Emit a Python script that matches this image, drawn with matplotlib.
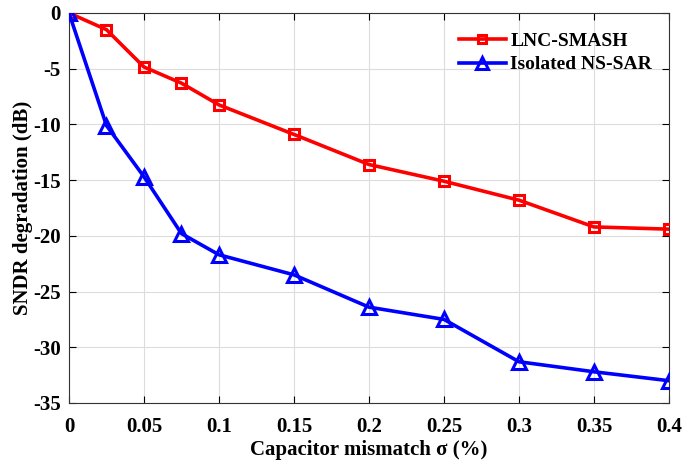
import matplotlib
matplotlib.use("Agg")
import matplotlib.pyplot as plt

sigma = [0, 0.025, 0.05, 0.075, 0.1, 0.15, 0.2, 0.25, 0.3, 0.35, 0.4]
lnc_smash = [0, -1.5, -4.85, -6.3, -8.25, -10.9, -13.6, -15.1, -16.8, -19.2, -19.4]
isolated_ns_sar = [0, -10.1, -14.7, -19.8, -21.7, -23.5, -26.4, -27.5, -31.3, -32.2, -33.0]

plt.rcParams['font.family'] = ['Liberation Serif', 'DejaVu Serif']
plt.rcParams['font.weight'] = 'bold'
plt.rcParams['axes.unicode_minus'] = False

fig = plt.figure(figsize=(6.83, 4.63), dpi=100)
ax = fig.add_axes([0.101, 0.1296, 0.8785, 0.8424])

ax.plot(sigma, lnc_smash, color='#ff0000', lw=2.6, marker='s', ms=7.5,
        mfc='none', mew=2.2, label='LNC-SMASH', zorder=3)
ax.plot(sigma, isolated_ns_sar, color='#0000ff', lw=2.6, marker='^', ms=10,
        mfc='none', mew=2.2, label='Isolated NS-SAR', zorder=3)

ax.set_xlim(0, 0.4)
ax.set_ylim(-35, 0)
ax.set_xticks(sigma[:1] + sigma[2:3] + sigma[4:])
ax.set_xticklabels(['0', '0.05', '0.1', '0.15', '0.2', '0.25', '0.3', '0.35', '0.4'])
ax.set_yticks(range(-35, 1, 5))
ax.tick_params(direction='in', top=True, right=True, labelsize=15, length=5,
               width=0.8)
ax.tick_params(axis='x', pad=10)
ax.tick_params(axis='y', pad=6)
for lab in ax.get_xticklabels() + ax.get_yticklabels():
    lab.set_fontweight('bold')
ax.grid(True, color='#dcdcdc', lw=0.8, zorder=0)
for s in ax.spines.values():
    s.set_color('#333333')
    s.set_linewidth(0.8)

ax.set_xlabel('Capacitor mismatch σ (%)', fontsize=15, fontweight='bold', labelpad=2)
ax.set_ylabel('SNDR degradation (dB)', fontsize=15, fontweight='bold', labelpad=0)

leg = ax.legend(loc='upper right', fontsize=14, frameon=False, handlelength=2.4,
                borderaxespad=0.0, labelspacing=0.3, handletextpad=0.25,
                markerscale=0.85, bbox_to_anchor=(0.985, 0.97))
for t in leg.get_texts():
    t.set_fontweight('bold')

fig.savefig('out.png', dpi=100)
